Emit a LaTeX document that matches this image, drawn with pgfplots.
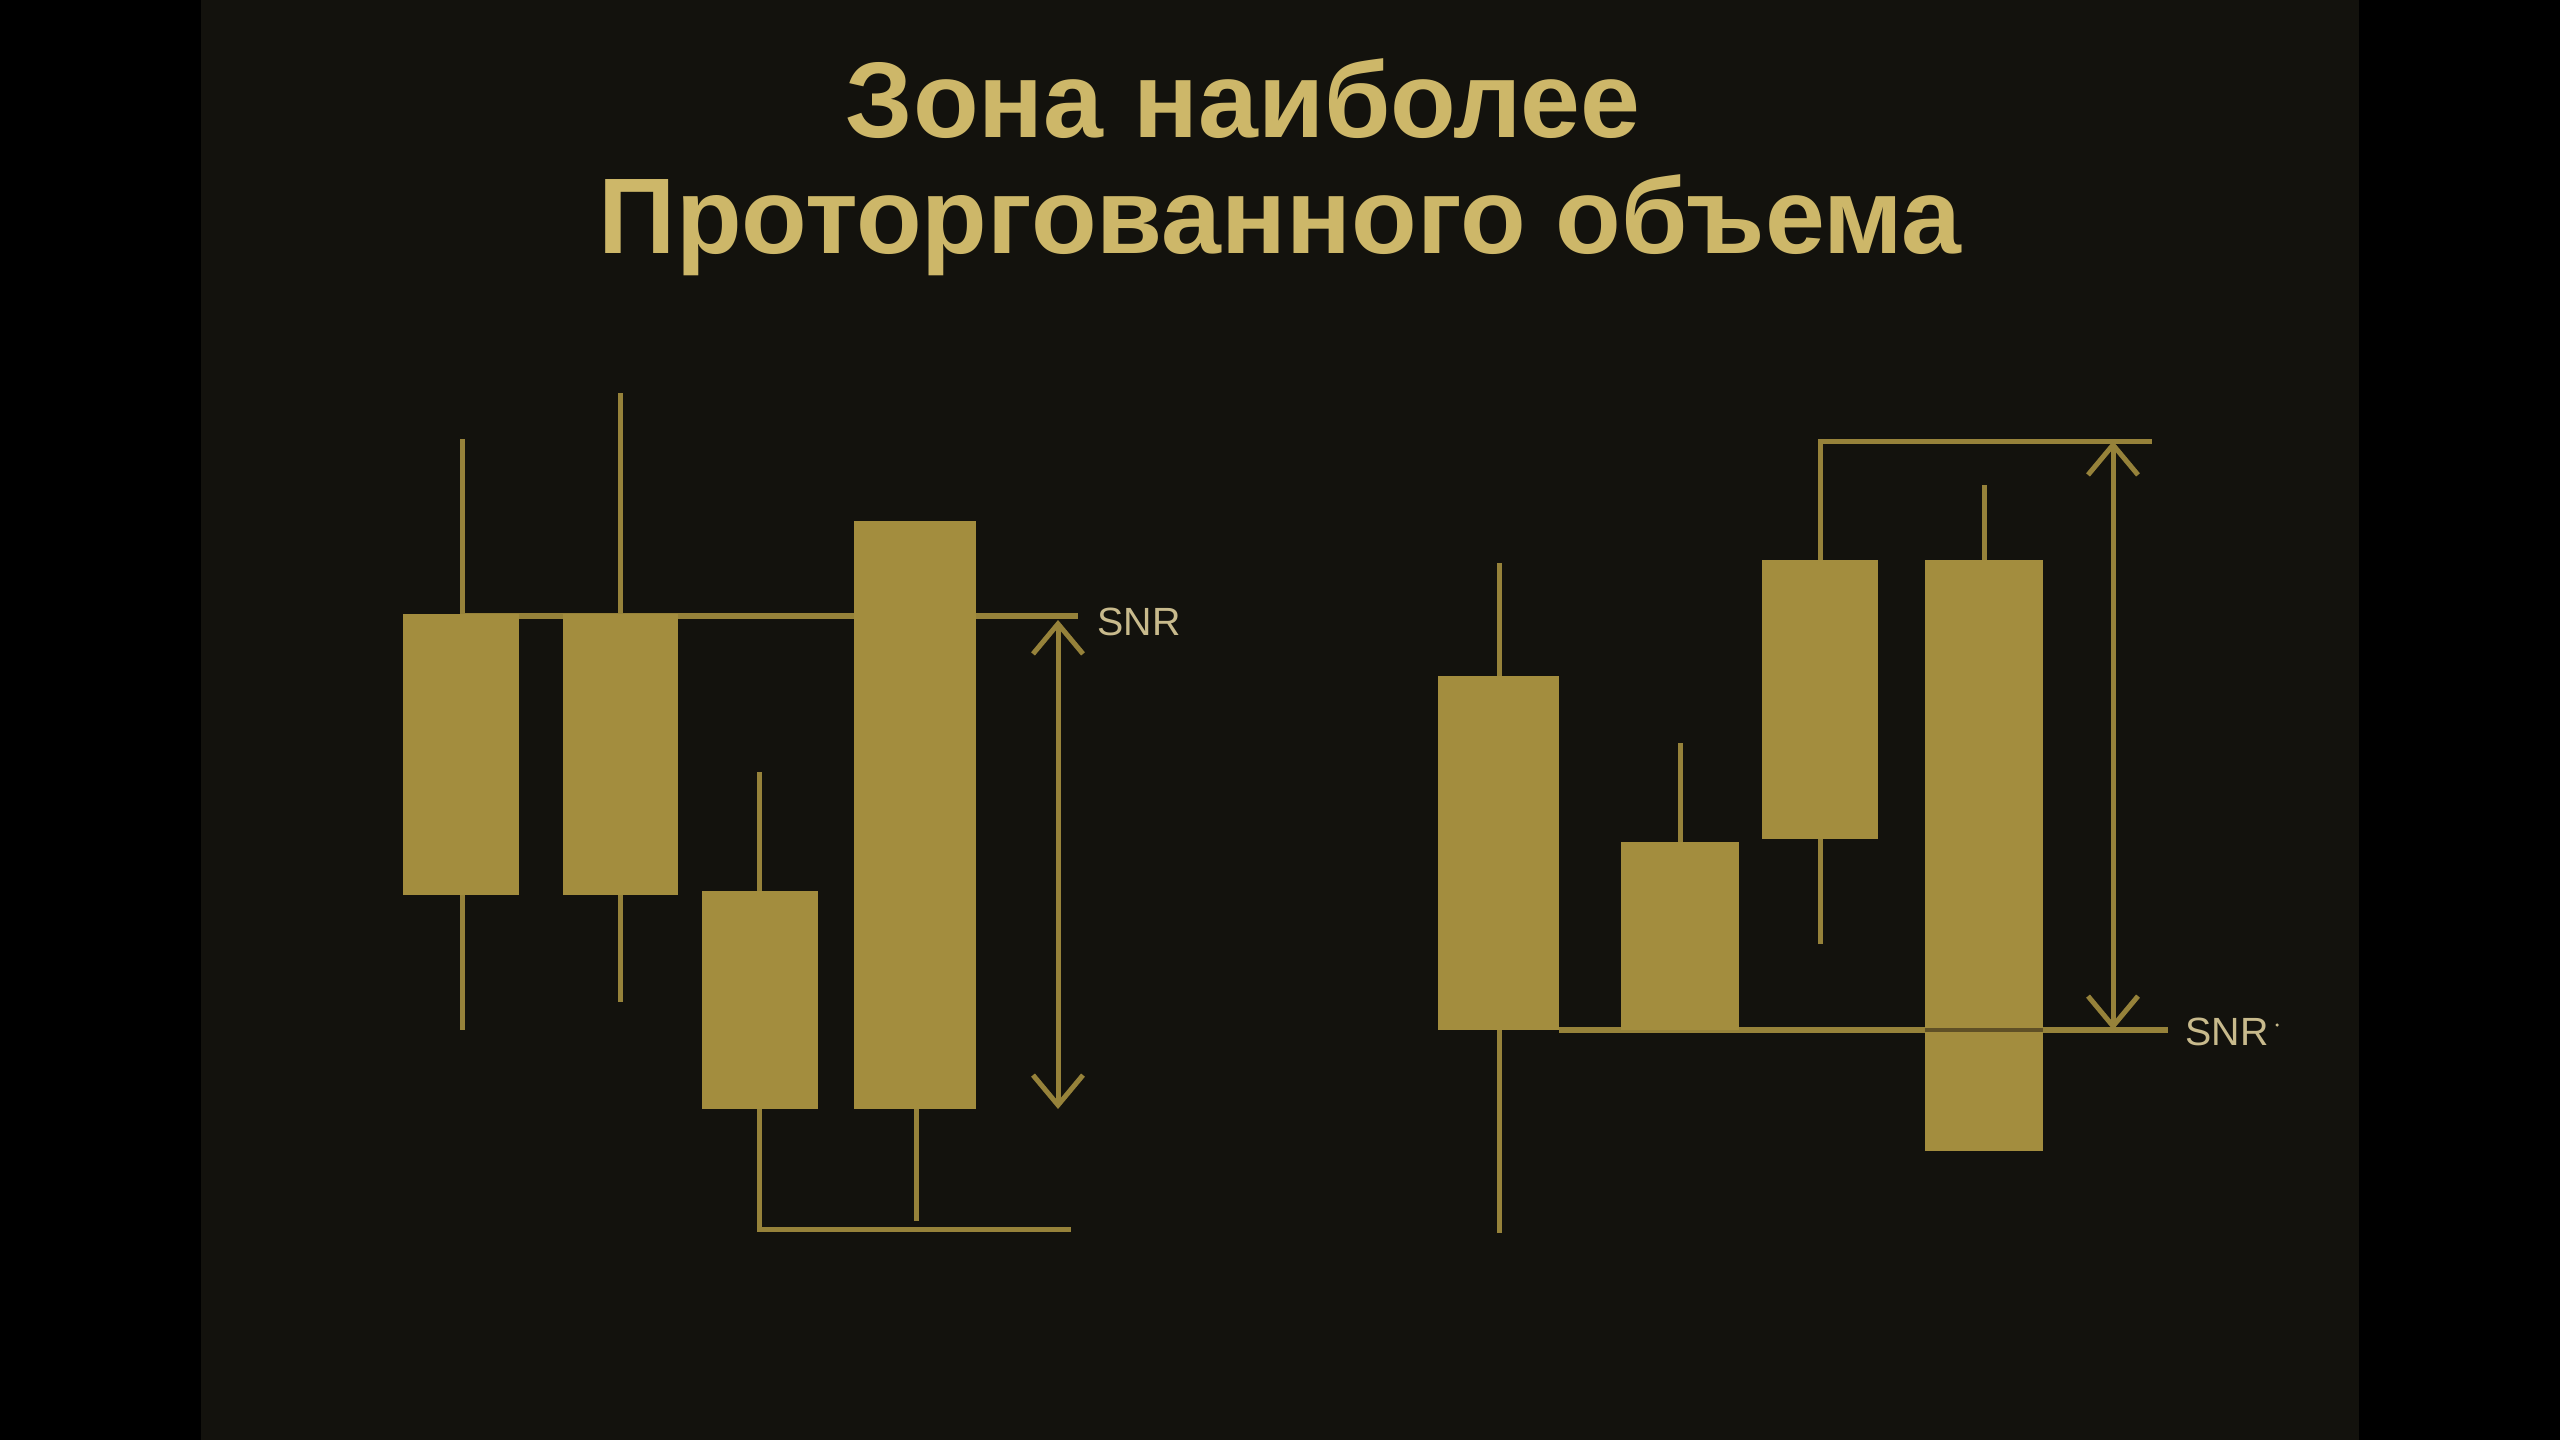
\documentclass[border=0pt]{standalone}
\usepackage{pgfplots}
\pgfplotsset{compat=1.18}
\usepackage{fontspec}
\setmainfont{Liberation Sans}
\usetikzlibrary{arrows.meta}
\definecolor{bg}{RGB}{19,18,13}
\definecolor{gold}{RGB}{163,141,62}
\definecolor{goldline}{RGB}{150,130,58}
\definecolor{goldtitle}{RGB}{205,183,105}
\definecolor{snrtext}{RGB}{200,186,140}
\definecolor{darkline}{RGB}{95,80,38}
\tikzset{
  snr/.style={anchor=base west, inner sep=0pt, text=snrtext, font=\fontsize{11.2pt}{12pt}\selectfont},
  ttl/.style={anchor=base, inner sep=0pt, text=goldtitle, font=\bfseries\fontsize{30.6pt}{32pt}\selectfont},
}

\begin{document}
\begin{tikzpicture}
% page: 2560 x 1440 px, 1 px = 0.1 mm
\useasboundingbox (0,0) rectangle (256mm,144mm);
\fill[black] (0,0) rectangle (256mm,144mm);
\fill[bg] (20.1mm,0) rectangle (235.9mm,144mm);
\begin{axis}[
    at={(0,0)}, anchor=south west,
    width=256mm, height=144mm, scale only axis,
    xmin=0, xmax=2560, ymin=0, ymax=1440,
    y dir=reverse,
    axis lines=none,
    clip=false,
    wick/.style={goldline, line width=0.5mm},
    body/.style={fill=gold, draw=none},
    level/.style={goldline, line width=0.55mm},
    dim/.style={goldline, line width=0.5mm, {Straight Barb[length=3mm,width=5mm]}-{Straight Barb[length=3mm,width=5mm]}},
  ]
  % ---- left group: wicks
  \addplot[wick] coordinates {(462,439) (462,1030)};
  \addplot[wick] coordinates {(620,393) (620,1002)};
  \addplot[wick] coordinates {(759,772) (759,1229) (1071,1229)};
  \addplot[wick] coordinates {(916,1109) (916,1221)};
  % SNR level
  \addplot[level] coordinates {(462,616) (1078,616)};
  % bodies
  \addplot[body] coordinates {(403,614) (519,614) (519,895) (403,895)};
  \addplot[body] coordinates {(563,614) (678,614) (678,895) (563,895)};
  \addplot[body] coordinates {(702,891) (818,891) (818,1109) (702,1109)};
  \addplot[body] coordinates {(854,521) (976,521) (976,1109) (854,1109)};
  % range arrow
  \addplot[dim] coordinates {(1058,620) (1058,1109)};
  \node[snr] at (axis cs:1097,635) {SNR};

  % ---- right group: wicks
  \addplot[wick] coordinates {(1499,563) (1499,1233)};
  \addplot[wick] coordinates {(1680,743) (1680,842)};
  \addplot[wick] coordinates {(1820,944) (1820,441) (2152,441)};
  \addplot[wick] coordinates {(1984,485) (1984,560)};
  % SNR level
  \addplot[level] coordinates {(1559,1030) (2168,1030)};
  % bodies
  \addplot[body] coordinates {(1438,676) (1559,676) (1559,1030) (1438,1030)};
  \addplot[body] coordinates {(1621,842) (1739,842) (1739,1030) (1621,1030)};
  \addplot[body] coordinates {(1762,560) (1878,560) (1878,839) (1762,839)};
  \addplot[body] coordinates {(1925,560) (2043,560) (2043,1151) (1925,1151)};
  \addplot[darkline, line width=0.4mm] coordinates {(1925,1030) (2043,1030)};
  % range arrow
  \addplot[dim] coordinates {(2113,441) (2113,1030)};
  \node[snr] at (axis cs:2185,1045) {SNR};
  \node[circle, fill=snrtext, inner sep=0pt, minimum size=0.35mm] at (axis cs:2277,1025) {};

  % ---- title
  \node[ttl] at (axis cs:1243,137) {Зона наиболее};
  \node[ttl] at (axis cs:1280,253) {Проторгованного объема};
\end{axis}
\end{tikzpicture}
\end{document}
